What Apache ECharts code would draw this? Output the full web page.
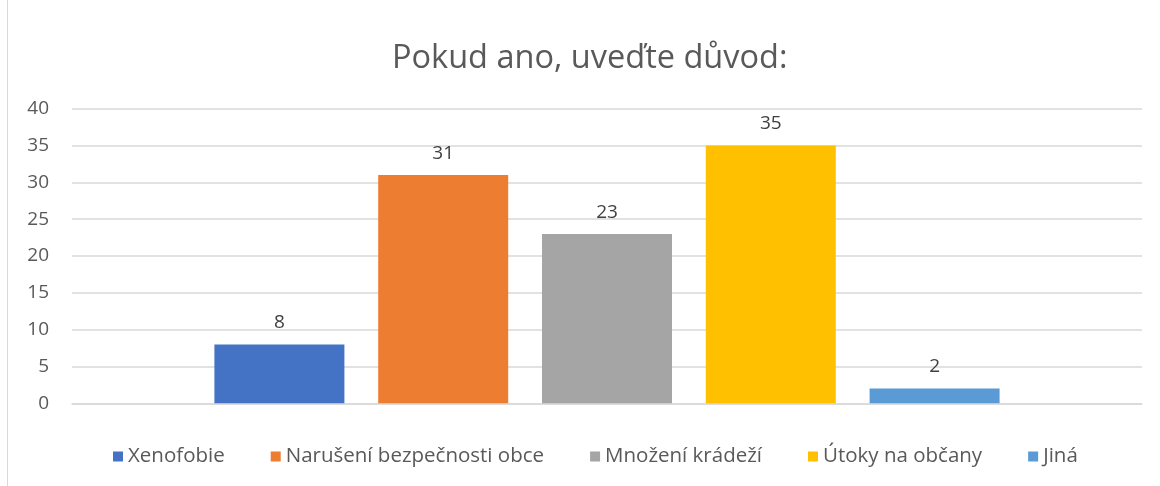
<!DOCTYPE html>
<html><head><meta charset="utf-8">
<script src="https://cdn.jsdelivr.net/npm/echarts@6/dist/echarts.min.js"></script>
<style>html,body{margin:0;padding:0;background:#fff}#c{width:1160px;height:486px}</style>
</head><body><div id="c"></div>
<script>
const title = 'Pokud ano, uveďte důvod:';
const categories = [''];
const seriesNames = ['Xenofobie', 'Narušení bezpečnosti obce', 'Množení krádeží', 'Útoky na občany', 'Jiná'];
const seriesValues = [8, 31, 23, 35, 2];
const colors = ['#4472C4', '#ED7D31', '#A5A5A5', '#FFC000', '#5B9BD5'];
const yTicks = {min: 0, max: 40, interval: 5};

const chart = echarts.init(document.getElementById('c'));
const font = 'Open Sans';
chart.setOption({
  animation: false,
  title: {text: title, left: 387, top: 37, textStyle: {fontFamily: font, fontSize: 32.5, fontWeight: 'normal', color: '#595959'}},
  legend: {bottom: 14, left: 108, icon: 'rect', itemWidth: 10, itemHeight: 10, itemGap: 46,
    textStyle: {fontFamily: font, fontSize: 20.5, color: '#595959'}},
  grid: {left: 72, right: 18, top: 108.7, bottom: 82.7},
  xAxis: {type: 'category', data: categories, axisLine: {lineStyle: {color: '#D9D9D9', width: 1.5}}, axisTick: {show: false}, axisLabel: {show: false}},
  yAxis: {type: 'value', min: yTicks.min, max: yTicks.max, interval: yTicks.interval,
    axisLine: {show: false}, axisTick: {show: false},
    axisLabel: {fontFamily: font, fontSize: 19, color: '#595959', margin: 23},
    splitLine: {lineStyle: {color: '#D9D9D9', width: 1.5}}},
  graphic: [{type: 'line', shape: {x1: 7.5, y1: 0, x2: 7.5, y2: 486}, style: {stroke: '#D9D9D9', lineWidth: 1}}],
  series: seriesNames.map((n, i) => ({
    name: n, type: 'bar', data: [seriesValues[i]], barWidth: 130, barGap: '26%',
    itemStyle: {color: colors[i]},
    label: {show: true, position: 'top', distance: 12, fontFamily: font, fontSize: 19, color: '#404040'}
  }))
});
</script></body></html>
